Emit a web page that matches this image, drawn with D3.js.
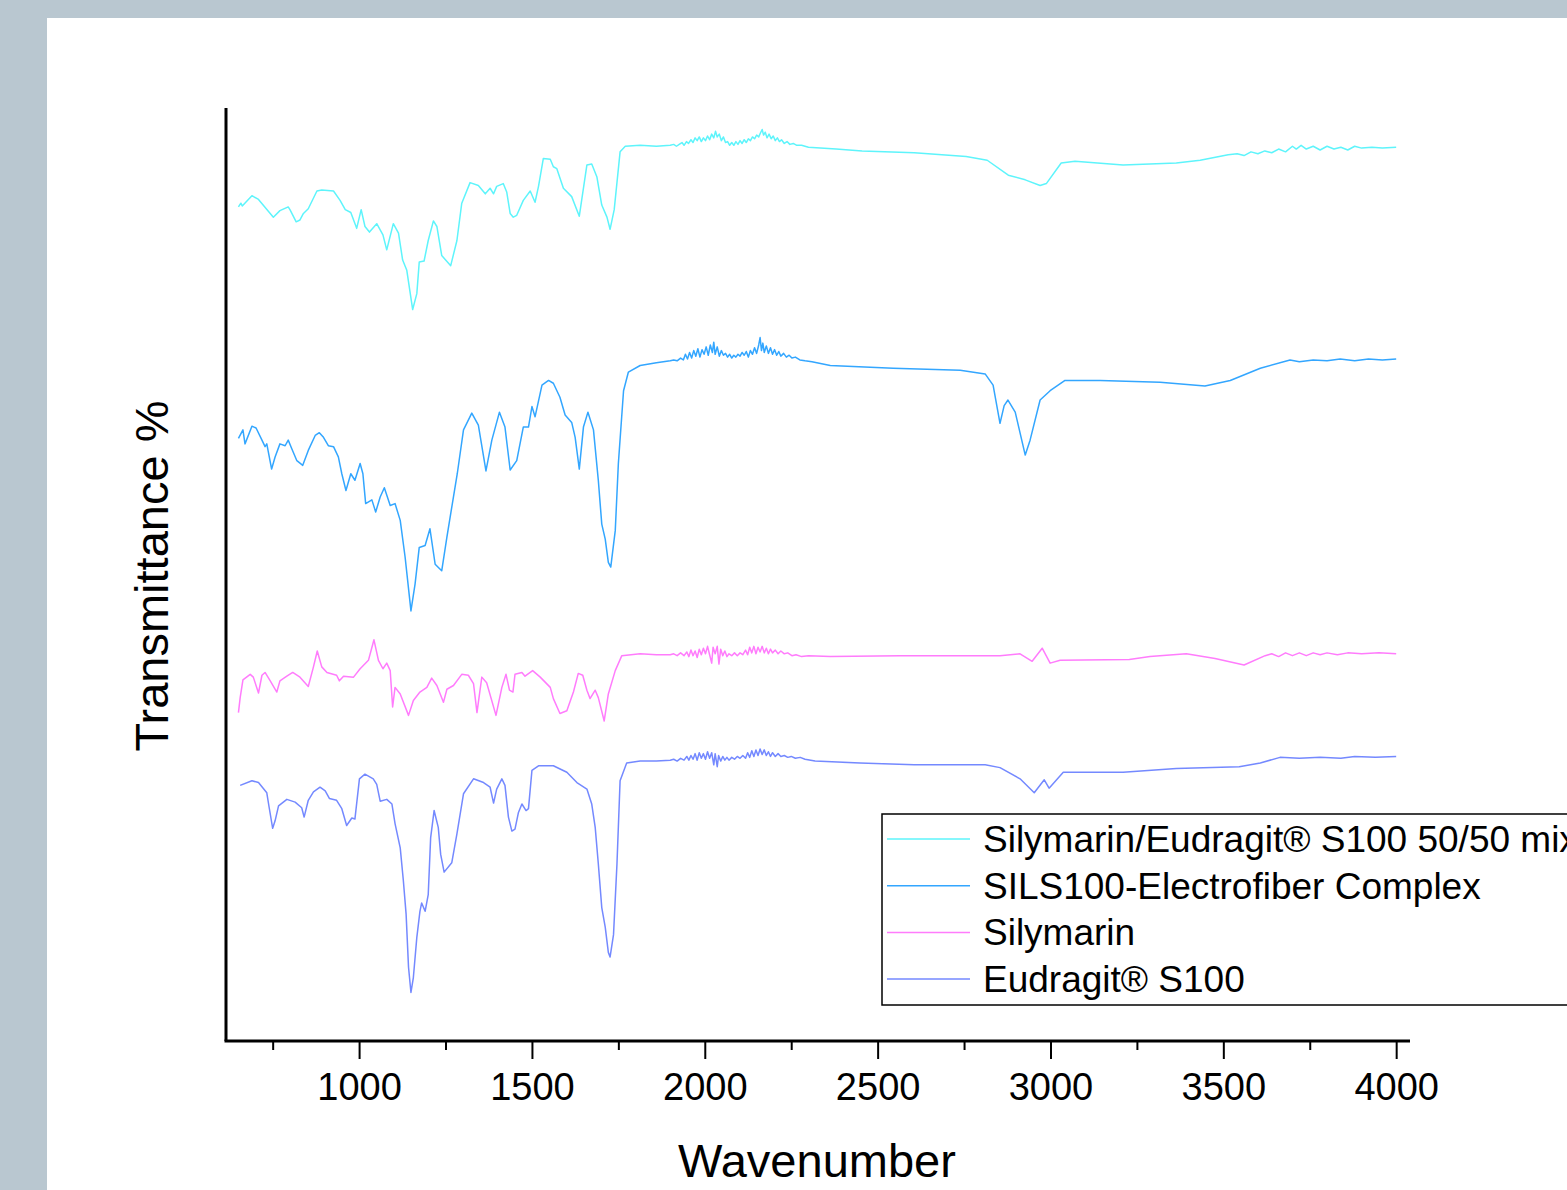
<html>
<head>
    <meta charset="utf-8">
    <script src="https://cdn.jsdelivr.net/npm/d3@7"></script>
    <style>
        body { margin: 0; background: #b9c7d0; overflow: hidden; }
        text { font-family: "Liberation Sans", Arial, sans-serif; fill: #000; }
    </style>
</head>
<body>
<script>

    // FTIR spectra, [wavenumber, transmittance (stacked, arbitrary units)]
    var mixSpectrum = [
        [651, 89.4], [658, 89.8], [662, 89.5], [690, 90.6], [709, 90.2], [752, 88.3], [771, 89.0], [795, 89.4],
        [800, 89.1], [818, 87.8], [829, 88.0], [839, 88.7], [853, 89.2], [878, 91.1], [892, 91.2], [926, 91.1],
        [945, 90.1], [960, 89.1], [976, 88.8], [993, 87.1], [1006, 89.1], [1017, 87.3], [1030, 86.7], [1051, 87.6],
        [1069, 86.4], [1080, 84.8], [1099, 87.6], [1114, 86.6], [1126, 83.7], [1138, 82.6], [1155, 78.4], [1167, 80.1],
        [1174, 83.5], [1188, 83.6], [1200, 85.8], [1215, 87.9], [1225, 87.3], [1239, 84.2], [1265, 83.1], [1283, 85.8],
        [1297, 89.8], [1321, 92.0], [1345, 91.7], [1365, 90.8], [1379, 91.4], [1389, 90.8], [1398, 91.6], [1417, 91.9],
        [1427, 91.0], [1437, 88.7], [1446, 88.3], [1456, 88.5], [1475, 90.1], [1495, 91.1], [1509, 89.9], [1519, 91.6],
        [1533, 94.6], [1553, 94.5], [1562, 93.7], [1572, 93.5], [1591, 91.4], [1615, 90.5], [1637, 88.4], [1659, 93.9],
        [1673, 94.0], [1688, 92.6], [1702, 89.6], [1717, 88.3], [1726, 87.0], [1738, 89.1], [1755, 95.3], [1770, 95.9],
        [1813, 96.0], [1860, 95.9], [1900, 96.0], [1910, 96.1], [1918, 95.9], [1926, 96.1], [1934, 96.3], [1940, 96.0],
        [1947, 96.4], [1953, 96.2], [1960, 96.6], [1966, 96.3], [1972, 96.8], [1978, 96.5], [1984, 96.9], [1990, 96.4],
        [1996, 96.8], [2002, 96.5], [2008, 97.0], [2014, 96.6], [2020, 97.2], [2026, 96.8], [2031, 97.5], [2036, 96.9],
        [2042, 97.2], [2048, 96.5], [2054, 96.9], [2060, 96.3], [2066, 96.4], [2072, 96.0], [2078, 96.3], [2084, 96.0],
        [2090, 96.4], [2096, 96.1], [2102, 96.5], [2108, 96.2], [2114, 96.6], [2120, 96.3], [2126, 96.7], [2132, 96.5],
        [2138, 96.9], [2144, 96.7], [2150, 97.1], [2156, 96.9], [2162, 97.4], [2166, 97.7], [2170, 97.1], [2175, 97.4],
        [2180, 96.8], [2186, 97.2], [2192, 96.7], [2198, 97.0], [2204, 96.5], [2210, 96.8], [2216, 96.4], [2222, 96.6],
        [2230, 96.2], [2238, 96.4], [2246, 96.1], [2256, 96.2], [2266, 96.0], [2280, 96.0], [2300, 95.8], [2380, 95.6],
        [2455, 95.4], [2606, 95.2], [2756, 94.8], [2817, 94.4], [2878, 92.8], [2927, 92.3], [2970, 91.7], [2988, 91.9],
        [3031, 94.1], [3071, 94.3], [3210, 93.9], [3364, 94.1], [3433, 94.4], [3514, 95.0], [3540, 95.1], [3560, 94.9],
        [3580, 95.3], [3600, 95.1], [3620, 95.4], [3640, 95.2], [3660, 95.6], [3680, 95.3], [3700, 95.9], [3711, 95.6],
        [3725, 96.0], [3740, 95.6], [3760, 95.9], [3780, 95.5], [3800, 95.9], [3820, 95.6], [3840, 95.8], [3860, 95.5],
        [3880, 95.9], [3900, 95.7], [3930, 95.8], [3960, 95.7], [4000, 95.8]
    ];

    var silsSpectrum = [
        [651, 64.6], [664, 65.5], [670, 64.0], [690, 65.9], [702, 65.7], [719, 64.4], [728, 63.7], [733, 64.0],
        [747, 61.3], [757, 62.6], [771, 64.0], [786, 63.8], [795, 64.4], [805, 63.5], [820, 62.2], [837, 61.7],
        [853, 63.3], [873, 64.9], [885, 65.2], [897, 64.7], [911, 63.8], [926, 63.7], [940, 62.6], [950, 60.8],
        [962, 59.0], [976, 60.8], [988, 60.1], [1003, 61.9], [1011, 60.8], [1019, 57.6], [1037, 58.0], [1048, 56.7],
        [1061, 58.3], [1073, 59.3], [1090, 57.4], [1104, 57.6], [1119, 55.8], [1133, 51.9], [1150, 46.1], [1162, 49.0],
        [1174, 52.9], [1191, 53.1], [1205, 54.9], [1220, 51.1], [1239, 50.4], [1254, 54.0], [1268, 57.2], [1284, 60.8],
        [1302, 65.5], [1326, 67.3], [1345, 66.0], [1367, 61.1], [1384, 64.4], [1406, 67.4], [1422, 65.8], [1437, 61.2],
        [1456, 62.2], [1475, 65.8], [1490, 65.8], [1500, 68.0], [1509, 66.9], [1529, 70.3], [1548, 70.8], [1562, 70.5],
        [1581, 69.0], [1596, 67.1], [1615, 66.3], [1625, 64.7], [1637, 61.3], [1649, 65.8], [1662, 67.4], [1678, 65.5],
        [1692, 60.1], [1702, 55.4], [1712, 53.8], [1721, 51.3], [1728, 50.8], [1741, 54.7], [1750, 61.9], [1765, 69.7],
        [1779, 71.7], [1813, 72.4], [1860, 72.7], [1900, 72.9], [1910, 73.0], [1920, 72.9], [1930, 73.2], [1938, 73.0],
        [1944, 73.6], [1950, 73.1], [1956, 73.8], [1962, 73.2], [1968, 74.0], [1974, 73.4], [1980, 74.2], [1986, 73.3],
        [1992, 74.1], [1998, 73.6], [2004, 74.4], [2010, 73.5], [2016, 74.6], [2022, 73.8], [2026, 74.9], [2030, 73.6],
        [2036, 74.4], [2042, 73.4], [2048, 74.0], [2054, 73.5], [2060, 73.7], [2066, 73.3], [2072, 73.6], [2078, 73.2],
        [2084, 73.5], [2090, 73.3], [2096, 73.6], [2102, 73.4], [2108, 73.8], [2114, 73.5], [2120, 73.9], [2126, 73.3],
        [2132, 74.0], [2138, 73.6], [2144, 74.3], [2150, 73.7], [2156, 74.6], [2160, 75.4], [2164, 74.0], [2168, 74.8],
        [2172, 73.8], [2178, 74.5], [2184, 73.7], [2190, 74.3], [2196, 73.6], [2202, 74.1], [2208, 73.5], [2214, 73.9],
        [2220, 73.4], [2228, 73.7], [2236, 73.3], [2244, 73.5], [2252, 73.2], [2262, 73.3], [2275, 73.0], [2290, 72.9],
        [2310, 72.8], [2363, 72.4], [2545, 72.1], [2739, 71.9], [2811, 71.5], [2834, 70.3], [2854, 66.2], [2866, 68.1],
        [2877, 68.7], [2898, 67.4], [2927, 62.8], [2941, 64.4], [2970, 68.7], [2999, 69.7], [3042, 70.8], [3144, 70.8],
        [3317, 70.6], [3447, 70.2], [3520, 70.8], [3607, 72.1], [3693, 73.0], [3720, 72.8], [3760, 73.0], [3800, 72.9],
        [3838, 73.1], [3880, 72.9], [3920, 73.1], [3960, 73.0], [4000, 73.1]
    ];

    var silymarinSpectrum = [
        [651, 35.2], [656, 36.8], [664, 38.7], [685, 39.3], [694, 39.0], [709, 37.3], [719, 39.2], [728, 39.5],
        [743, 38.6], [762, 37.4], [771, 38.6], [791, 39.1], [808, 39.5], [829, 39.0], [853, 38.0], [868, 40.1],
        [879, 41.8], [892, 40.1], [907, 39.5], [935, 39.2], [943, 38.6], [955, 39.1], [984, 39.0], [1003, 39.9],
        [1027, 40.8], [1043, 43.0], [1056, 40.8], [1069, 39.9], [1080, 40.5], [1090, 39.7], [1097, 35.8], [1104, 37.9],
        [1119, 37.2], [1143, 34.9], [1157, 36.5], [1176, 37.4], [1196, 37.9], [1210, 38.9], [1225, 38.1], [1244, 36.3],
        [1254, 37.7], [1273, 38.1], [1297, 39.3], [1316, 39.2], [1331, 38.3], [1341, 35.2], [1355, 39.0], [1369, 38.4],
        [1396, 34.9], [1413, 37.9], [1425, 39.3], [1435, 37.6], [1445, 37.4], [1451, 39.3], [1471, 39.5], [1480, 39.1],
        [1502, 39.7], [1524, 39.0], [1553, 37.9], [1562, 36.7], [1581, 35.1], [1601, 35.4], [1620, 37.4], [1634, 39.4],
        [1647, 39.2], [1659, 37.6], [1668, 36.7], [1683, 37.6], [1692, 36.8], [1709, 34.3], [1721, 37.2], [1741, 39.7],
        [1760, 41.3], [1813, 41.5], [1860, 41.4], [1900, 41.4], [1910, 41.5], [1920, 41.3], [1930, 41.6], [1940, 41.3],
        [1948, 41.7], [1954, 41.2], [1960, 41.9], [1966, 41.3], [1972, 41.8], [1978, 41.1], [1984, 42.0], [1990, 41.4],
        [1996, 42.1], [2002, 41.5], [2008, 42.3], [2014, 41.4], [2020, 40.5], [2024, 42.2], [2030, 41.5], [2036, 42.3],
        [2041, 40.4], [2046, 42.0], [2052, 41.3], [2058, 41.8], [2064, 41.2], [2070, 41.5], [2078, 41.3], [2086, 41.6],
        [2094, 41.3], [2102, 41.6], [2110, 41.4], [2118, 41.9], [2124, 41.4], [2130, 42.2], [2136, 41.6], [2142, 42.3],
        [2148, 41.5], [2154, 42.2], [2160, 41.7], [2166, 42.3], [2172, 41.6], [2178, 42.1], [2184, 41.5], [2190, 42.0],
        [2196, 41.6], [2204, 41.9], [2212, 41.5], [2220, 41.8], [2230, 41.5], [2240, 41.6], [2252, 41.3], [2264, 41.4],
        [2280, 41.2], [2300, 41.3], [2363, 41.2], [2565, 41.3], [2854, 41.3], [2912, 41.5], [2947, 40.7], [2976, 42.1],
        [2999, 40.5], [3028, 40.8], [3228, 40.9], [3288, 41.2], [3393, 41.5], [3476, 41.0], [3560, 40.3], [3621, 41.3],
        [3640, 41.5], [3660, 41.2], [3680, 41.6], [3700, 41.3], [3720, 41.6], [3740, 41.3], [3760, 41.6], [3780, 41.4],
        [3800, 41.6], [3830, 41.4], [3860, 41.6], [3900, 41.5], [3950, 41.6], [4000, 41.5]
    ];

    var eudragitSpectrum = [
        [656, 27.4], [690, 27.9], [709, 27.7], [733, 26.6], [740, 25.0], [750, 22.8], [757, 23.6], [767, 25.2],
        [791, 25.9], [815, 25.6], [834, 25.0], [841, 24.0], [853, 25.8], [868, 26.7], [887, 27.2], [902, 26.8],
        [914, 26.0], [935, 25.8], [950, 24.9], [964, 23.1], [979, 23.9], [988, 23.8], [1001, 28.1], [1017, 28.6],
        [1041, 28.1], [1051, 27.5], [1061, 25.7], [1080, 25.9], [1095, 25.4], [1104, 23.3], [1119, 20.7], [1128, 17.2],
        [1136, 13.6], [1143, 7.9], [1150, 5.2], [1157, 6.8], [1167, 11.1], [1176, 13.9], [1181, 14.8], [1191, 13.9],
        [1200, 15.7], [1207, 21.8], [1217, 24.7], [1229, 22.9], [1236, 20.0], [1246, 18.1], [1268, 19.1], [1283, 22.2],
        [1302, 26.5], [1331, 28.1], [1360, 27.7], [1379, 27.2], [1389, 25.5], [1398, 27.0], [1413, 28.1], [1422, 27.4],
        [1432, 24.0], [1442, 22.5], [1451, 22.7], [1461, 24.5], [1471, 25.4], [1483, 24.7], [1490, 24.9], [1500, 29.0],
        [1519, 29.5], [1562, 29.5], [1601, 28.8], [1630, 27.7], [1659, 27.0], [1673, 25.4], [1683, 22.9], [1692, 19.0],
        [1702, 14.3], [1712, 12.2], [1721, 9.5], [1726, 9.0], [1736, 11.4], [1746, 19.0], [1755, 27.9], [1774, 29.8],
        [1813, 30.0], [1860, 30.0], [1900, 30.1], [1910, 30.2], [1920, 30.0], [1930, 30.3], [1940, 30.1], [1948, 30.5],
        [1954, 30.1], [1960, 30.6], [1966, 30.2], [1972, 30.8], [1978, 30.1], [1984, 30.9], [1990, 30.3], [1996, 30.8],
        [2002, 30.2], [2008, 31.0], [2014, 30.3], [2020, 30.9], [2026, 29.6], [2030, 30.8], [2036, 29.4], [2040, 30.6],
        [2046, 30.0], [2052, 30.5], [2058, 30.1], [2064, 30.4], [2070, 30.1], [2078, 30.4], [2086, 30.2], [2094, 30.5],
        [2102, 30.3], [2110, 30.6], [2118, 30.3], [2124, 30.9], [2130, 30.4], [2136, 31.1], [2142, 30.5], [2148, 31.2],
        [2154, 30.6], [2160, 31.3], [2166, 30.7], [2172, 31.2], [2178, 30.6], [2184, 31.0], [2190, 30.5], [2196, 30.9],
        [2204, 30.5], [2212, 30.8], [2220, 30.5], [2230, 30.6], [2240, 30.4], [2250, 30.5], [2262, 30.3], [2276, 30.4],
        [2290, 30.2], [2319, 30.0], [2449, 29.8], [2606, 29.6], [2811, 29.6], [2854, 29.3], [2912, 28.1], [2953, 26.6],
        [2982, 28.0], [2996, 27.1], [3037, 28.8], [3086, 28.8], [3210, 28.8], [3364, 29.2], [3546, 29.4], [3607, 29.8],
        [3664, 30.4], [3720, 30.3], [3780, 30.4], [3840, 30.3], [3880, 30.5], [3940, 30.4], [4000, 30.5]
    ];

    var seriesNames = [
        "Silymarin/Eudragit\u00AE S100 50/50 mixture",
        "SILS100-Electrofiber Complex",
        "Silymarin",
        "Eudragit\u00AE S100"
    ];
    var seriesColors = ["#5ef4fb", "#33a6ff", "#ff7cfc", "#7489ff"];
    var seriesData = [mixSpectrum, silsSpectrum, silymarinSpectrum, eudragitSpectrum];

    var majorTicks = [1000, 1500, 2000, 2500, 3000, 3500, 4000];
    var minorTicks = [750, 1250, 1750, 2250, 2750, 3250, 3750];

    var W = 1567, H = 1190;
    var plot = {left: 226, right: 1410, top: 108, bottom: 1041};

    var svg = d3.select("body").append("svg")
        .attr("width", W)
        .attr("height", H);

    // white panel on grey page
    svg.append("rect")
        .attr("x", 47).attr("y", 18)
        .attr("width", W - 47).attr("height", H - 18)
        .attr("fill", "#fff");

    var x = d3.scaleLinear().domain([615, 4040]).range([plot.left, plot.right]);
    var y = d3.scaleLinear().domain([0, 100]).range([plot.bottom, plot.top]);

    var line = d3.line()
        .x(function (d) { return x(d[0]); })
        .y(function (d) { return y(d[1]); });

    svg.append("g")
        .selectAll("path")
        .data(seriesData)
        .enter()
        .append("path")
        .attr("d", line)
        .attr("fill", "none")
        .attr("stroke", function (d, i) { return seriesColors[i]; })
        .attr("stroke-width", 1.5)
        .attr("stroke-linejoin", "round");

    // x axis, ticks outward
    var xAxis = svg.append("g")
        .attr("transform", "translate(0," + plot.bottom + ")")
        .call(d3.axisBottom(x).tickValues(majorTicks).tickSize(18).tickPadding(14).tickFormat(d3.format("d")));
    xAxis.select(".domain").remove();
    xAxis.selectAll(".tick line").attr("stroke", "#000").attr("stroke-width", 2);
    xAxis.selectAll(".tick text")
        .attr("font-family", "'Liberation Sans', Arial, sans-serif")
        .attr("font-size", "38px")
        .attr("fill", "#000");

    svg.append("g")
        .attr("transform", "translate(0," + plot.bottom + ")")
        .call(d3.axisBottom(x).tickValues(minorTicks).tickSize(9).tickFormat(""))
        .call(function (g) { g.select(".domain").remove(); })
        .selectAll(".tick line").attr("stroke", "#000").attr("stroke-width", 2);

    // axis lines
    svg.append("line")
        .attr("x1", plot.left - 1.5).attr("x2", plot.right)
        .attr("y1", plot.bottom).attr("y2", plot.bottom)
        .attr("stroke", "#000").attr("stroke-width", 3);
    svg.append("line")
        .attr("x1", plot.left).attr("x2", plot.left)
        .attr("y1", plot.top).attr("y2", plot.bottom)
        .attr("stroke", "#000").attr("stroke-width", 3);

    // axis titles
    svg.append("text")
        .attr("x", 817).attr("y", 1177)
        .attr("text-anchor", "middle")
        .attr("font-size", "47px")
        .text("Wavenumber");

    svg.append("text")
        .attr("transform", "translate(168,576) rotate(-90)")
        .attr("text-anchor", "middle")
        .attr("font-size", "47px")
        .text("Transmittance %");

    // legend (box runs past the right edge, as in the original figure)
    var legend = svg.append("g").attr("transform", "translate(882,814)");
    legend.append("rect")
        .attr("width", 800).attr("height", 191)
        .attr("fill", "#fff")
        .attr("stroke", "#000").attr("stroke-width", 1.5);

    var entry = legend.selectAll(".entry")
        .data(seriesNames)
        .enter()
        .append("g")
        .attr("transform", function (d, i) { return "translate(0," + (25 + i * 46.7) + ")"; });

    entry.append("line")
        .attr("x1", 5).attr("x2", 88)
        .attr("stroke", function (d, i) { return seriesColors[i]; })
        .attr("stroke-width", 1.5);

    entry.append("text")
        .attr("x", 101).attr("y", 13)
        .attr("font-size", "37px")
        .text(function (d) { return d; });

</script>
</body>
</html>
